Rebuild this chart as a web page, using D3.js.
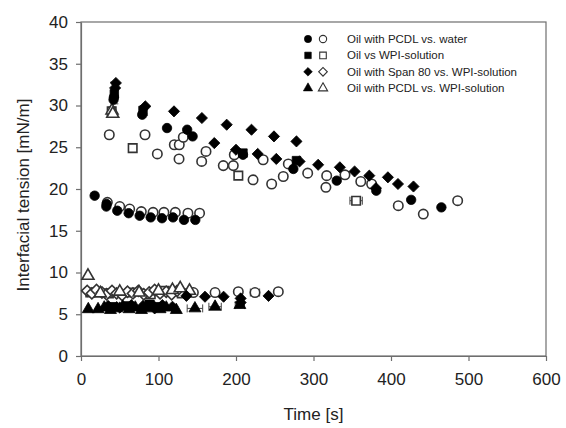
<!DOCTYPE html>
<html>
<head>
<meta charset="utf-8">
<script src="https://cdn.jsdelivr.net/npm/d3@7"></script>
<style>
  body { margin: 0; background: #fff; }
  svg { font-family: "Liberation Sans", Arial, sans-serif; }
</style>
</head>
<body>
<svg id="chart"></svg>
<script>
// X-Axis: Time [s]
// Y-Axis: Interfacial tension [mN/m]
const xTicks = [0, 100, 200, 300, 400, 500, 600];
const yTicks = [0, 5, 10, 15, 20, 25, 30, 35, 40];

const legendLabels = [
  'Oil with PCDL vs. water',
  'Oil vs WPI-solution',
  'Oil with Span 80 vs. WPI-solution',
  'Oil with PCDL vs. WPI-solution',
];

// [time, tension]
const pcdlWaterFilled = [
  [17.6, 19.2], [32.7, 17.9], [33, 18.2], [46.8, 17.4], [61.5, 17.1], [75.7, 16.8],
  [89.9, 16.6], [104.5, 16.5], [118.7, 16.6], [132.9, 16.3], [147.5, 16.3],
  [42, 30.7], [42.5, 31], [79, 28.9], [111, 27.3], [137, 27.1], [144, 26.3],
  [209, 24.1], [274, 22.4], [330, 21.0], [381, 19.8], [426, 18.7], [465, 17.8],
];
const pcdlWaterOpen = [
  [34, 18.4], [50, 17.9], [62.8, 17.6], [77.8, 17.3], [93, 17.2], [107, 17.2],
  [121.7, 17.2], [138, 17.1], [153, 17.1],
  [36.5, 26.5], [82.6, 26.5], [98.5, 24.2], [120.4, 25.3], [126.8, 25.3], [126.5, 23.6],
  [132, 26.2], [155.7, 23.3], [161.3, 24.5], [183.6, 22.8], [196.5, 22.8], [197.8, 24.1],
  [222, 21.1], [235, 23.5], [246, 20.6], [261, 21.5], [267.5, 23.0], [292.5, 21.9],
  [317, 21.6], [316, 20.2], [340.6, 21.7], [361, 20.9], [375, 20.6], [409.4, 18.0],
  [441.7, 17.0], [486, 18.6],
  [145, 7.6], [173, 7.6], [203, 7.7], [224.5, 7.6], [254.6, 7.7],
];
const wpiFilled = [
  [43, 31.4], [80, 29.4], [209, 24.3], [278, 23.4],
  [42, 5.9], [58, 6.0], [88, 6.2], [100, 5.9],
];
const wpiOpen = [
  [39.6, 29.3], [66.7, 24.9], [203, 21.6], [355, 18.6],
  [12, 7.6], [36, 7.5], [64, 7.6], [90, 7.4], [108, 7.8], [130, 7.5],
];
const span80Filled = [
  [45, 32.7], [44, 32.1], [83, 29.9], [120, 29.3], [156, 28.5], [188, 27.7],
  [220, 27.1], [249, 26.3], [278, 25.7],
  [172, 25.5], [200, 24.7], [228, 24.2], [252, 23.6], [282, 23.3], [306, 22.9],
  [334, 22.6], [353, 22.1], [372, 21.6], [380.6, 20.1], [396, 21.4], [409, 20.6], [429, 20.3],
  [35, 6.0], [50, 5.8], [65, 6.1], [80, 6.0], [95, 5.7], [105, 6.1], [118, 5.9],
  [136, 7.2], [160, 7.1], [184, 7.1], [206, 6.9], [206, 6.4], [242, 7.2],
];
const span80Open = [
  [8, 7.8], [14, 7.5], [20, 7.9], [27, 7.6], [33, 7.4], [40, 7.8], [46, 7.5],
  [53, 7.3], [60, 7.7], [67, 7.5], [74, 7.8], [81, 7.4], [88, 7.6], [95, 7.9],
  [102, 7.5], [110, 7.7], [117, 7.4], [124, 7.8],
];
const pcdlWpiFilled = [
  [9.4, 5.6], [22, 5.6], [30, 5.8], [38, 5.5], [46, 5.7], [54, 5.9], [62, 5.6],
  [70, 5.8], [78, 5.5], [86, 5.7], [94, 5.9], [102, 5.6], [110, 5.8], [123, 5.5],
  [147, 5.7], [173, 5.9], [205, 6.1],
];
const pcdlWpiOpen = [
  [9, 9.6], [40, 29.4], [41, 29.0], [25, 7.5], [50, 7.7], [75, 7.6], [100, 7.8],
  [118, 7.9], [128, 8.1], [140, 7.8],
];

// [time, tension, half width in s]
const xErrors = [
  [355, 18.6, 8], [203, 21.6, 4], [147, 5.7, 10], [173, 5.9, 8], [205, 6.1, 6],
  [224.5, 7.6, 6], [173, 7.6, 4],
];
// [time, tension, half height in mN/m]
const yErrors = [[43, 31.5, 1.3], [81, 29.4, 0.6], [40, 29.2, 0.6]];

const config = {
  width: 566,
  height: 428,
  margin: { top: 22, right: 20, bottom: 72, left: 81 },
};
const width = config.width - config.margin.left - config.margin.right;
const height = config.height - config.margin.top - config.margin.bottom;

const svg = d3.select('#chart')
  .attr('width', config.width)
  .attr('height', config.height);

const chart = svg.append('g')
  .attr('transform', `translate(${config.margin.left},${config.margin.top})`);

const xScale = d3.scaleLinear().domain([0, 600]).range([0, width]);
const yScale = d3.scaleLinear().domain([0, 40]).range([height, 0]);

const axisColor = '#6e6e6e';

// Frame
chart.append('rect')
  .attr('width', width)
  .attr('height', height)
  .attr('fill', 'none')
  .attr('stroke', axisColor)
  .attr('stroke-width', 1.2);

const xAxis = d3.axisBottom(xScale).tickValues(xTicks).tickSize(5).tickPadding(8).tickSizeOuter(0);
const yAxis = d3.axisLeft(yScale).tickValues(yTicks).tickSize(5).tickPadding(8).tickSizeOuter(0);

const xAxisG = chart.append('g').attr('transform', `translate(0,${height})`).call(xAxis);
const yAxisG = chart.append('g').call(yAxis);

[xAxisG, yAxisG].forEach((g) => {
  g.select('.domain').attr('stroke', axisColor).attr('stroke-width', 1.2);
  g.selectAll('.tick line').attr('stroke', axisColor).attr('stroke-width', 1.2);
  g.selectAll('.tick text')
    .attr('fill', '#222')
    .style('font-size', '17px')
    .style('font-family', '"Liberation Sans", Arial, sans-serif');
});
xAxisG.selectAll('.tick text').attr('dy', '0.95em');

// Axis titles
chart.append('text')
  .attr('x', width / 2)
  .attr('y', height + 64)
  .attr('text-anchor', 'middle')
  .attr('fill', '#222')
  .style('font-size', '17px')
  .text('Time [s]');

chart.append('text')
  .attr('transform', `translate(${-config.margin.left + 29},${height / 2 + 6}) rotate(-90)`)
  .attr('text-anchor', 'middle')
  .attr('fill', '#222')
  .style('font-size', '17px')
  .text('Interfacial tension [mN/m]');

// Error bars
const bars = chart.append('g').attr('stroke', '#444').attr('stroke-width', 1);
xErrors.forEach(([t, v, dt]) => {
  const y = yScale(v);
  bars.append('line').attr('x1', xScale(t - dt)).attr('x2', xScale(t + dt)).attr('y1', y).attr('y2', y);
  [t - dt, t + dt].forEach((e) => {
    bars.append('line').attr('x1', xScale(e)).attr('x2', xScale(e)).attr('y1', y - 4).attr('y2', y + 4);
  });
});
yErrors.forEach(([t, v, dv]) => {
  const x = xScale(t);
  bars.append('line').attr('x1', x).attr('x2', x).attr('y1', yScale(v - dv)).attr('y2', yScale(v + dv));
  [v - dv, v + dv].forEach((e) => {
    bars.append('line').attr('x1', x - 4).attr('x2', x + 4).attr('y1', yScale(e)).attr('y2', yScale(e));
  });
});

// Marker shapes
const shapes = {
  circle: { type: d3.symbolCircle, size: 70, rotate: 0 },
  square: { type: d3.symbolSquare, size: 72, rotate: 0 },
  diamond: { type: d3.symbolSquare, size: 62, rotate: 45 },
  triangle: { type: d3.symbolTriangle, size: 62, rotate: 0 },
};

const series = [
  { data: pcdlWaterOpen, shape: 'circle', filled: false },
  { data: wpiOpen, shape: 'square', filled: false },
  { data: span80Open, shape: 'diamond', filled: false },
  { data: pcdlWpiOpen, shape: 'triangle', filled: false },
  { data: pcdlWaterFilled, shape: 'circle', filled: true },
  { data: wpiFilled, shape: 'square', filled: true },
  { data: span80Filled, shape: 'diamond', filled: true },
  { data: pcdlWpiFilled, shape: 'triangle', filled: true },
];

function drawMarks(g, s, scale) {
  const sh = shapes[s.shape];
  g.selectAll(null)
    .data(s.data)
    .join('path')
    .attr('d', d3.symbol().type(sh.type).size(sh.size * scale))
    .attr('transform', (d) => `translate(${xScale(d[0])},${yScale(d[1])}) rotate(${sh.rotate})`)
    .attr('fill', s.filled ? '#000' : '#fff')
    .attr('stroke', s.filled ? '#000' : '#333')
    .attr('stroke-width', s.filled ? 0.8 : 1.6);
}

const marks = chart.append('g');
series.forEach((s) => drawMarks(marks.append('g'), s, 1));

// Legend
const legend = svg.append('g');
legendLabels.forEach((label, i) => {
  const y = 39 + i * 16.4;
  const shapeName = ['circle', 'square', 'diamond', 'triangle'][i];
  const sh = shapes[shapeName];
  [[308, true], [323, false]].forEach(([x, filled]) => {
    legend.append('path')
      .attr('d', d3.symbol().type(sh.type).size(sh.size * 0.6)())
      .attr('transform', `translate(${x},${y}) rotate(${sh.rotate})`)
      .attr('fill', filled ? '#000' : '#fff')
      .attr('stroke', filled ? '#000' : '#333')
      .attr('stroke-width', filled ? 0.6 : 1.1);
  });
  legend.append('text')
    .attr('x', 347)
    .attr('y', y + 4)
    .attr('fill', '#222')
    .style('font-size', '11.5px')
    .text(label);
});
</script>
</body>
</html>
